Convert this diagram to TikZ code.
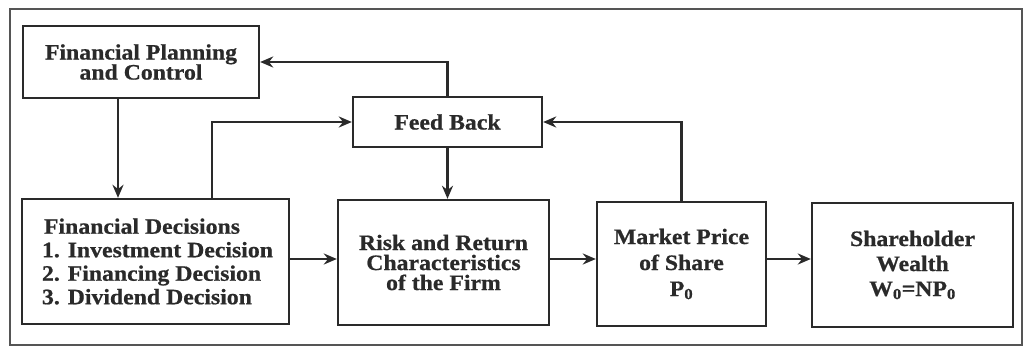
\documentclass[tikz,border=0pt]{standalone}
\usepackage{fontspec}
\setmainfont{Liberation Serif}[FakeStretch=1.08, BoldFeatures={FakeBold=0.7}]
\usetikzlibrary{arrows.meta}
\definecolor{ink}{HTML}{2A2A2A}
\definecolor{frame}{HTML}{555555}
\tikzset{
  box/.style={draw=ink, line width=2.4pt, rectangle, text=ink, align=center,
    inner sep=0pt, font=\fontsize{22}{21}\bfseries\selectfont},
  arr/.style={draw=ink, line width=2.4pt, -{Stealth[length=13pt,width=11pt]}},
}
\begin{document}
\begin{tikzpicture}[x=1pt,y=-1pt]
\useasboundingbox (0,0) rectangle (1025,350);
\fill[white] (0,0) rectangle (1025,350);
\draw[frame, line width=1.6pt] (10,9) rectangle (1022,345);
% nodes
\node[box, minimum width=236pt, minimum height=72pt] (fpc) at (141,62)
  {Financial Planning\\[-1pt]and Control};
\node[box, minimum width=189pt, minimum height=50pt] (fb) at (447.5,122)
  {Feed Back};
\node[box, minimum width=267pt, minimum height=125pt, align=left,
  font=\fontsize{22}{23.5}\bfseries\selectfont] (fd) at (155.5,261.5)
  {\hspace*{6pt}Financial Decisions\\\hspace*{4pt}1. Investment Decision\\\hspace*{4pt}2. Financing Decision\\\hspace*{4pt}3. Dividend Decision};
\node[box, minimum width=211pt, minimum height=125pt,
  font=\fontsize{22}{20}\bfseries\selectfont] (rr) at (443.5,262.5)
  {Risk and Return\\Characteristics\\of the Firm};
\node[box, minimum width=169pt, minimum height=124pt,
  font=\fontsize{22}{26}\bfseries\selectfont] (mp) at (681.5,264)
  {Market Price\\of Share\\P\textsubscript{0}};
\node[box, minimum width=201pt, minimum height=124pt,
  font=\fontsize{22}{25}\bfseries\selectfont] (sh) at (912.5,265)
  {Shareholder\\Wealth\\W\textsubscript{0}=NP\textsubscript{0}};
% helper coordinates
\coordinate (hy) at (0,259);
\coordinate (c1) at (118,0);
\coordinate (c2) at (212,0);
% connectors
\draw[arr] (fb.north) |- (fpc.east);
\draw[arr] (fpc.south -| c1) -- (fd.north -| c1);
\draw[arr] (fd.north -| c2) |- (fb.west);
\draw[arr] (fb.south) -- (rr.north -| fb.south);
\draw[arr] (mp.north) |- (fb.east);
\draw[arr] (fd.east |- hy) -- (rr.west |- hy);
\draw[arr] (rr.east |- hy) -- (mp.west |- hy);
\draw[arr] (mp.east |- hy) -- (sh.west |- hy);
\end{tikzpicture}
\end{document}
